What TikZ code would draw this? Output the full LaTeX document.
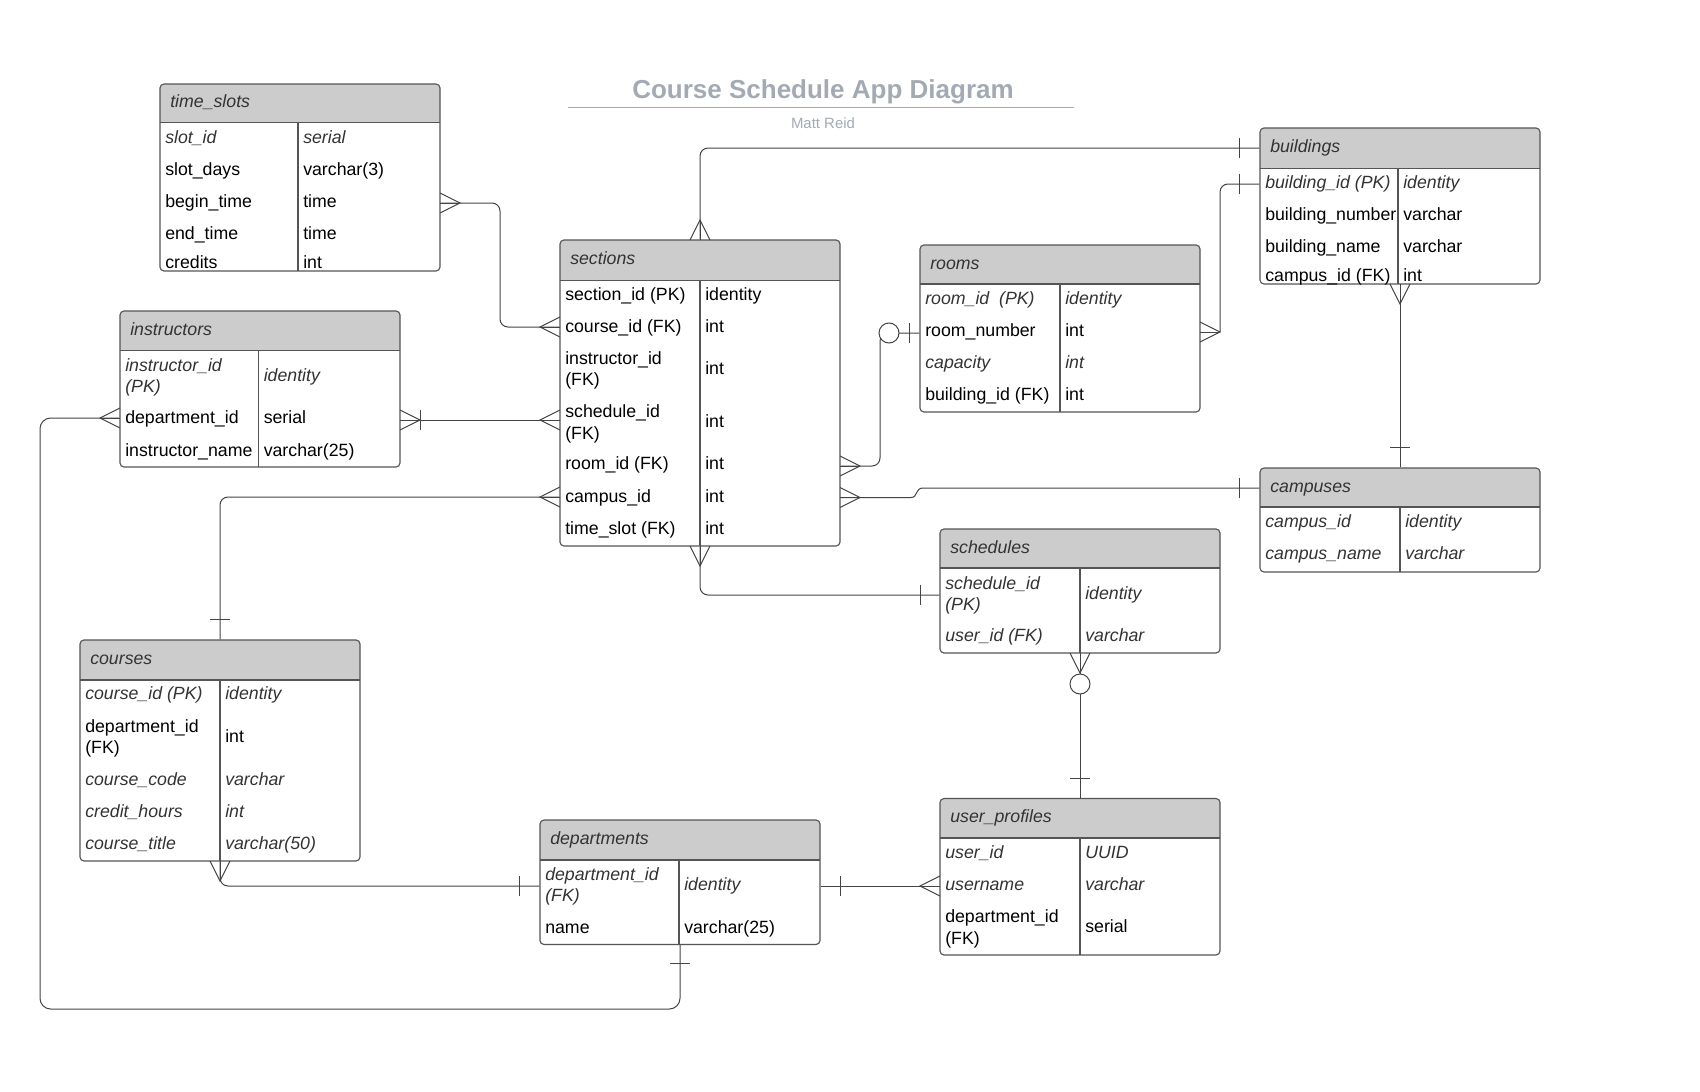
\documentclass[tikz,border=0pt]{standalone}
\usepackage{fontspec}
\setmainfont{Liberation Sans}
\usetikzlibrary{fit}
\definecolor{hdrfill}{HTML}{CCCCCC}
\definecolor{boxcol}{HTML}{555555}
\definecolor{linecol}{HTML}{444444}
\definecolor{hdrtext}{HTML}{333333}
\definecolor{itcol}{HTML}{333333}
\definecolor{titlecol}{HTML}{A4AAB4}
\newcommand{\fieldfont}{\fontsize{13.3}{16}\selectfont}
\tikzset{
  fld/.style={anchor=west, inner sep=0pt, font=\fieldfont, align=left, text height=9.6pt, text depth=2.8pt, yshift=-1.1pt},
  it/.style={font=\fieldfont\itshape, text=itcol},
  rg/.style={text=black},
  two/.style={text height=, text depth=, yshift=-0.6pt},
  hdr/.style={anchor=west, inner sep=0pt, font=\fieldfont\itshape, text=hdrtext, text height=9.6pt, text depth=2.8pt},
  tablebox/.style={inner sep=0pt, draw=boxcol, line width=0.85pt, rounded corners=3pt},
  conn/.style={draw=linecol, line width=0.75pt, rounded corners=6pt},
  ermark/.style={draw=linecol, line width=0.75pt},
}
% #1 name, #2 x1, #3 y1, #4 x2, #5 y2, #6 header bottom, #7 divider x, #8 title
\newcommand{\ertable}[8]{%
  \fill[hdrfill] (#2,#6) [rounded corners=3pt] -- (#2,#3) -- (#4,#3) [sharp corners] -- (#4,#6) -- cycle;
  \node[tablebox, fit={(#2,#3) (#4,#5)}] (#1) {};
  \draw[boxcol, line width=0.85pt] (#2,#6) -- (#4,#6);
  \draw[boxcol, line width=0.85pt] (#7,#6) -- (#7,#5);
  \node[hdr] (#1-title) at ({#2+10},{(#3+#6)/2}) {#8};
}
% #1 name, #2 x1, #3 divider, #4 y, #5 style, #6 col1, #7 col2
\newcommand{\ertrow}[7]{%
  \node[fld,#5] (#1-a) at ({#2+5},#4) {#6};
  \node[fld,#5] (#1-b) at ({#3+5},#4) {#7};
}
\newcommand{\ertrowB}[7]{%
  \node[fld,#5,two] (#1-a) at ({#2+5},#4) {#6};
  \node[fld,#5] (#1-b) at ({#3+5},#4) {#7};
}
\newcommand{\crowR}[2]{\draw[ermark] (#1,{#2-10}) -- ({#1+20},#2) -- (#1,{#2+10}); \draw[ermark] (#1,#2) -- ({#1+20},#2);}
\newcommand{\crowL}[2]{\draw[ermark] (#1,{#2-10}) -- ({#1-20},#2) -- (#1,{#2+10}); \draw[ermark] (#1,#2) -- ({#1-20},#2);}
\newcommand{\crowU}[2]{\draw[ermark] ({#1-10},#2) -- (#1,{#2-20}) -- ({#1+10},#2); \draw[ermark] (#1,#2) -- (#1,{#2-20});}
\newcommand{\crowD}[2]{\draw[ermark] ({#1-10},#2) -- (#1,{#2+20}) -- ({#1+10},#2); \draw[ermark] (#1,#2) -- (#1,{#2+20});}
\newcommand{\barV}[2]{\draw[ermark] (#1,{#2-10}) -- (#1,{#2+10});}
\newcommand{\barH}[2]{\draw[ermark] ({#1-10},#2) -- ({#1+10},#2);}
\newcommand{\ering}[2]{\draw[ermark, fill=white] (#1,#2) circle[radius=10];}
\begin{document}
\begin{tikzpicture}[x=0.75pt, y=-0.75pt]
\fill[white] (0,0) rectangle (1700,1092);
\useasboundingbox (0,0) rectangle (1700,1092);

% title
\node[font=\fontsize{19.5}{22}\selectfont\bfseries, text=titlecol, inner sep=0pt] (title) at (823,92) {Course Schedule App Diagram};
\draw[titlecol, line width=1.2pt] (568,107.5) -- (1074,107.5);
\node[font=\fontsize{11.2}{13}\selectfont, text=titlecol, inner sep=0pt] (author) at (823,123.5) {Matt Reid};

% tables
\ertable{timeslots}{160}{84}{440}{271}{122.5}{298}{time\_slots}
\ertrow{ts1}{160}{298}{137.5}{it}{slot\_id}{serial}
\ertrow{ts2}{160}{298}{169}{rg}{slot\_days}{varchar(3)}
\ertrow{ts3}{160}{298}{201.5}{rg}{begin\_time}{time}
\ertrow{ts4}{160}{298}{233}{rg}{end\_time}{time}
\ertrow{ts5}{160}{298}{262.5}{rg}{credits}{int}

\ertable{sections}{560}{240}{840}{546}{280.5}{700}{sections}
\ertrow{se1}{560}{700}{294}{rg}{section\_id (PK)}{identity}
\ertrow{se2}{560}{700}{326}{rg}{course\_id (FK)}{int}
\ertrowB{se3}{560}{700}{368}{rg}{instructor\_id\\(FK)}{int}
\ertrowB{se4}{560}{700}{421.5}{rg}{schedule\_id\\(FK)}{int}
\ertrow{se5}{560}{700}{463}{rg}{room\_id (FK)}{int}
\ertrow{se6}{560}{700}{496}{rg}{campus\_id}{int}
\ertrow{se7}{560}{700}{528}{rg}{time\_slot (FK)}{int}

\ertable{rooms}{920}{245}{1200}{412}{284}{1060}{rooms}
\ertrow{ro1}{920}{1060}{298}{it}{room\_id\ \ (PK)}{identity}
\ertrow{ro2}{920}{1060}{330}{rg}{room\_number}{int}
\ertrow{ro3}{920}{1060}{362}{it}{capacity}{int}
\ertrow{ro4}{920}{1060}{394}{rg}{building\_id (FK)}{int}

\ertable{buildings}{1260}{128}{1540}{284}{168.3}{1398}{buildings}
\ertrow{bu1}{1260}{1398}{182}{it}{building\_id (PK)}{identity}
\ertrow{bu2}{1260}{1398}{214}{rg}{building\_number}{varchar}
\ertrow{bu3}{1260}{1398}{246}{rg}{building\_name}{varchar}
\ertrow{bu4}{1260}{1398}{275}{rg}{campus\_id (FK)}{int}

\ertable{campuses}{1260}{468}{1540}{572}{507}{1400}{campuses}
\ertrow{ca1}{1260}{1400}{521}{it}{campus\_id}{identity}
\ertrow{ca2}{1260}{1400}{553}{it}{campus\_name}{varchar}

\ertable{instructors}{120}{311}{400}{467}{350.7}{258.5}{instructors}
\ertrowB{in1}{120}{258.5}{375}{it}{instructor\_id\\(PK)}{identity}
\ertrow{in2}{120}{258.5}{417.5}{rg}{department\_id}{serial}
\ertrow{in3}{120}{258.5}{450}{rg}{instructor\_name}{varchar(25)}

\ertable{courses}{80}{640}{360}{861}{680}{220}{courses}
\ertrow{co1}{80}{220}{693}{it}{course\_id (PK)}{identity}
\ertrowB{co2}{80}{220}{736}{rg}{department\_id\\(FK)}{int}
\ertrow{co3}{80}{220}{779}{it}{course\_code}{varchar}
\ertrow{co4}{80}{220}{811}{it}{credit\_hours}{int}
\ertrow{co5}{80}{220}{843}{it}{course\_title}{varchar(50)}

\ertable{departments}{540}{820}{820}{944.5}{860}{679}{departments}
\ertrowB{de1}{540}{679}{884}{it}{department\_id\\(FK)}{identity}
\ertrow{de2}{540}{679}{927}{rg}{name}{varchar(25)}

\ertable{schedules}{940}{529}{1220}{653}{568}{1080}{schedules}
\ertrowB{sc1}{940}{1080}{593}{it}{schedule\_id\\(PK)}{identity}
\ertrow{sc2}{940}{1080}{635}{it}{user\_id (FK)}{varchar}

\ertable{userprofiles}{940}{798.5}{1220}{955}{838}{1080}{user\_profiles}
\ertrow{up1}{940}{1080}{852}{it}{user\_id}{UUID}
\ertrow{up2}{940}{1080}{884}{it}{username}{varchar}
\ertrowB{up3}{940}{1080}{926.5}{rg}{department\_id\\(FK)}{serial}

% connectors
% 1 time_slots - sections
\draw[conn] (timeslots.east |- 0,203) -- (500,203) -- (500,327) -- (sections.west |- 0,327);
\crowR{440}{203} \crowL{560}{327}
% 2 instructors - sections
\draw[conn] (instructors.east |- 0,420) -- (sections.west |- 0,420);
\crowR{400}{420} \barV{420}{420} \crowL{560}{420}
% 3 sections - courses
\draw[conn] (sections.west |- 0,497) -- (220,497) -- (courses.north);
\crowL{560}{497} \barH{220}{619}
% 4 sections - buildings
\draw[conn] (sections.north) -- (700,148) -- (buildings.west |- 0,148);
\crowU{700}{240} \barV{1239}{148}
% 5 sections - rooms
\draw[conn] (sections.east |- 0,466) -- (880,466) -- (880,333) -- (rooms.west |- 0,333);
\crowR{840}{466} \ering{889}{333} \barV{909}{333}
% 6 sections - campuses
\draw[ermark] (sections.east |- 0,497.5) -- (911,497.5) .. controls (918,497.5) and (915,488) .. (923,488) -- (campuses.west |- 0,488);
\crowR{840}{497.5} \barV{1239}{488}
% 7 sections - schedules
\draw[conn] (sections.south) -- (700,595) -- (schedules.west |- 0,595);
\crowD{700}{546} \barV{920}{595}
% 8 rooms - buildings
\draw[conn] (1220,332) -- (1220,184) -- (buildings.west |- 0,184);
\crowR{1200}{332} \barV{1239}{184}
% 9 buildings - campuses
\draw[conn] (buildings.south) -- (campuses.north);
\crowD{1400}{284} \barH{1400}{447}
% 10 schedules - user_profiles
\draw[conn] (schedules.south) -- (userprofiles.north);
\crowD{1080}{653} \ering{1080}{684} \barH{1080}{778}
% 11 courses - departments
\draw[conn] (courses.south) -- (220,886) -- (departments.west |- 0,886);
\crowD{220}{861} \barV{519}{886}
% 12 departments - user_profiles
\draw[conn] (departments.east |- 0,886) -- (userprofiles.west |- 0,886);
\barV{840}{886} \crowL{940}{886}
% 13 departments - instructors
\draw[conn, rounded corners=8pt] (departments.south) -- (680,1009) -- (40,1009) -- (40,418) -- (instructors.west |- 0,418);
\barH{680}{963} \crowL{120}{418}
\end{tikzpicture}
\end{document}
